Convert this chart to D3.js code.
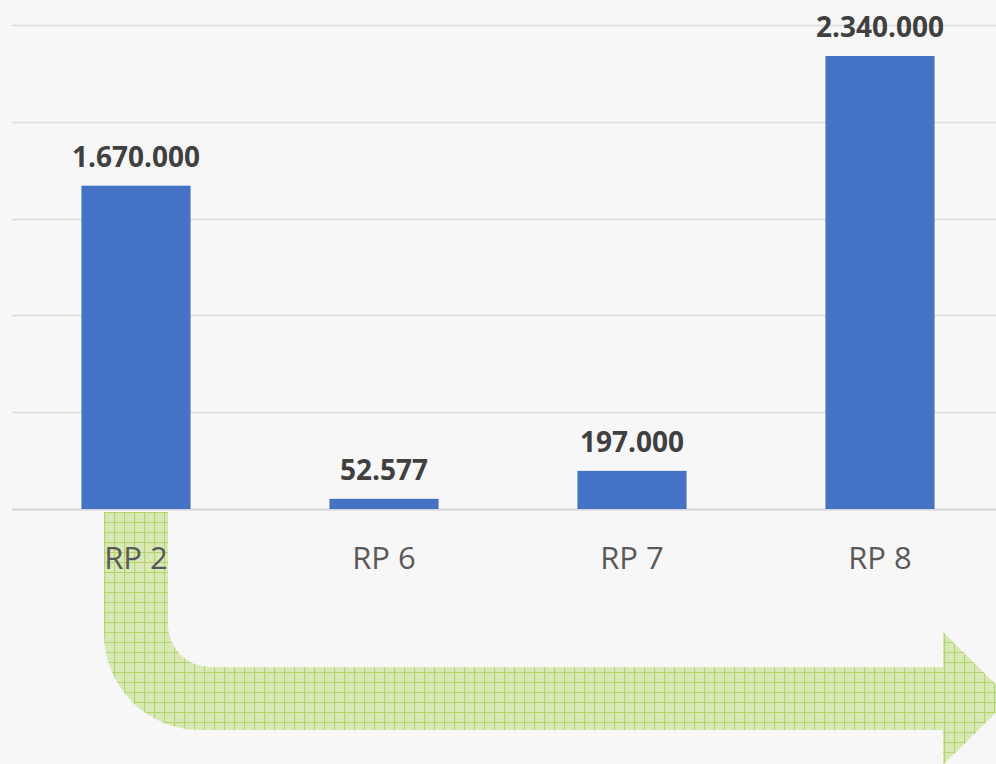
<!DOCTYPE html>
<html>
<head>
  <meta charset="utf-8">
  <title>RP chart</title>
  <style type="text/css">
    body {
      margin: 0;
      background: #f6f6f6;
    }
    svg {
      display: block;
    }
  </style>
  <script src="https://d3js.org/d3.v7.min.js"></script>
</head>
<body>
  <div id="chart"></div>
  <script>
    var categories = ['RP 2', 'RP 6', 'RP 7', 'RP 8'];
    var values = [1670000, 52577, 197000, 2340000];
    var valueLabels = ['1.670.000', '52.577', '197.000', '2.340.000'];
    var gridTicks = [0, 500000, 1000000, 1500000, 2000000, 2500000];

    var width = 996, height = 764;

    var svg = d3.select('#chart').append('svg')
      .attr('width', width)
      .attr('height', height);

    var defs = svg.append('defs');

    // light paper texture for the background
    var noise = defs.append('filter').attr('id', 'noise')
      .attr('x', 0).attr('y', 0).attr('width', '100%').attr('height', '100%');
    noise.append('feTurbulence')
      .attr('type', 'fractalNoise')
      .attr('baseFrequency', 0.8)
      .attr('numOctaves', 2)
      .attr('stitchTiles', 'stitch');
    noise.append('feColorMatrix')
      .attr('type', 'matrix')
      .attr('values', '0 0 0 0 0.6  0 0 0 0 0.6  0 0 0 0 0.6  0 0 0 0.05 0');

    // grid hatch for the arrow
    var pat = defs.append('pattern').attr('id', 'grid')
      .attr('patternUnits', 'userSpaceOnUse')
      .attr('width', 10).attr('height', 10)
      .attr('x', 104).attr('y', 512);
    pat.append('rect').attr('width', 10).attr('height', 10).attr('fill', '#d8e9b6');
    pat.append('path')
      .attr('d', 'M0.5,0 V10 M0,0.5 H10')
      .attr('stroke', '#b2d46a')
      .attr('stroke-width', 1.2);

    svg.append('rect')
      .attr('width', width).attr('height', height)
      .attr('fill', '#f8f8f8');
    svg.append('rect')
      .attr('width', width).attr('height', height)
      .attr('filter', 'url(#noise)');

    var x = d3.scaleBand()
      .domain(categories)
      .range([12, 1004])
      .padding(0);

    var y = d3.scaleLinear()
      .domain([0, 2500000])
      .range([509, 25]);

    var barW = x.bandwidth() * 0.44;

    // gridlines
    svg.append('g')
      .selectAll('line')
      .data(gridTicks)
      .join('line')
      .attr('x1', 12)
      .attr('x2', width)
      .attr('y1', function (d) { return Math.round(y(d)) + 0.5; })
      .attr('y2', function (d) { return Math.round(y(d)) + 0.5; })
      .attr('stroke', function (d) { return d === 0 ? '#d6d6d6' : '#dcdcdc'; })
      .attr('stroke-width', function (d) { return d === 0 ? 2 : 1.5; });

    // bars
    svg.append('g')
      .selectAll('rect')
      .data(values)
      .join('rect')
      .attr('x', function (d, i) { return x(categories[i]) + x.bandwidth() / 2 - barW / 2; })
      .attr('y', function (d) { return y(d); })
      .attr('width', barW)
      .attr('height', function (d) { return y(0) - y(d); })
      .attr('fill', '#4472c4');

    // value labels
    svg.append('g')
      .selectAll('text')
      .data(values)
      .join('text')
      .attr('x', function (d, i) { return x(categories[i]) + x.bandwidth() / 2; })
      .attr('y', function (d) { return y(d) - 19; })
      .attr('text-anchor', 'middle')
      .attr('font-family', 'Open Sans, sans-serif')
      .attr('font-weight', 'bold')
      .attr('font-size', 28)
      .attr('fill', '#404040')
      .text(function (d, i) { return valueLabels[i]; });

    // bent arrow behind the category labels
    svg.append('path')
      .attr('d', 'M104,512 L168,512 L168,625 A42,42 0 0 0 210,667 L943,667 L943,632 ' +
                 'L1010,698.5 L943,765 L943,730 L200,730 A96,96 0 0 1 104,634 Z')
      .attr('fill', 'url(#grid)');

    // category labels
    svg.append('g')
      .selectAll('text')
      .data(categories)
      .join('text')
      .attr('x', function (d) { return x(d) + x.bandwidth() / 2; })
      .attr('y', 569)
      .attr('text-anchor', 'middle')
      .attr('font-family', 'Open Sans, sans-serif')
      .attr('font-size', 31)
      .attr('fill', '#595959')
      .text(function (d) { return d; });
  </script>
</body>
</html>
